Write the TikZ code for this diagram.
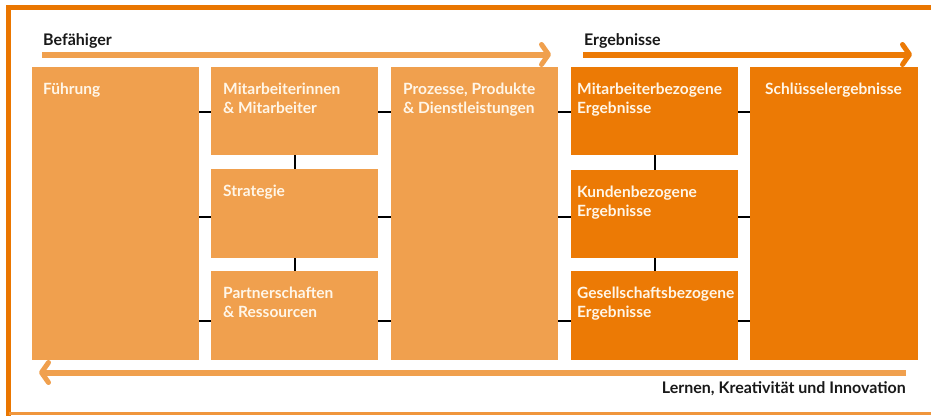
\documentclass[tikz,border=0pt]{standalone}
\usepackage{fontspec}
\setmainfont{Lato}
\usetikzlibrary{arrows.meta}
\definecolor{lo}{RGB}{240,160,78}
\definecolor{do}{RGB}{236,122,5}
\definecolor{fr}{RGB}{234,118,0}
\definecolor{frb}{RGB}{240,150,60}
\definecolor{txt}{RGB}{255,246,232}
\definecolor{ink}{RGB}{25,25,25}
\begin{document}
\begin{tikzpicture}[x=1pt,y=-1pt,
  lbox/.style={fill=lo, draw=none, inner sep=0pt, anchor=north west, minimum width=167pt},
  dbox/.style={fill=do, draw=none, inner sep=0pt, anchor=north west, minimum width=167pt},
  btext/.style={anchor=north west, inner sep=0pt, text=txt, align=left,
    font=\bfseries\fontsize{15.5}{19}\selectfont},
  head/.style={anchor=base west, inner sep=0pt, text=ink, font=\bfseries\fontsize{16}{19}\selectfont},
  conn/.style={draw=black, line width=2pt},
  arr/.style={line width=6pt, -{Straight Barb[length=7pt,width=20pt,line width=5pt,round]}}]
\useasboundingbox (0,0) rectangle (931,416);
\fill[white] (0,0) rectangle (931,416);
% frame
\draw[fr, line width=5pt] (931,7.5) -- (8.5,7.5) -- (8.5,416);
\draw[frb, line width=3pt] (8.5,413.5) -- (931,413.5);
% boxes
\node[lbox, minimum height=293pt] (fu) at (32,67) {};
\node[lbox, minimum height=88pt] (mi) at (211,67) {};
\node[lbox, minimum height=89pt] (st) at (211,169) {};
\node[lbox, minimum height=89pt] (pa) at (211,271) {};
\node[lbox, minimum height=293pt] (pr) at (391,67) {};
\node[dbox, minimum height=88pt] (me) at (571,67) {};
\node[dbox, minimum height=88pt] (ke) at (571,170) {};
\node[dbox, minimum height=89pt] (ge) at (571,271) {};
\node[dbox, minimum height=293pt, minimum width=168pt] (sc) at (750,67) {};
% texts
\node[btext] (fut) at ([xshift=11pt,yshift=-16pt]fu.north west) {Führung};
\node[btext] (mit) at ([xshift=12pt,yshift=-16pt]mi.north west) {Mitarbeiterinnen\\\& Mitarbeiter};
\node[btext] (stt) at ([xshift=12pt,yshift=-16pt]st.north west) {Strategie};
\node[btext] (pat) at ([xshift=12pt,yshift=-16pt]pa.north west) {Partnerschaften\\\& Ressourcen};
\node[btext] (prt) at ([xshift=12pt,yshift=-16pt]pr.north west) {Prozesse, Produkte\\\& Dienstleistungen};
\node[btext] (met) at ([xshift=6pt,yshift=-16pt]me.north west) {Mitarbeiterbezogene\\Ergebnisse};
\node[btext] (ket) at ([xshift=6pt,yshift=-16pt]ke.north west) {Kundenbezogene\\Ergebnisse};
\node[btext] (get) at ([xshift=6pt,yshift=-16pt]ge.north west) {Gesellschaftsbezogene\\Ergebnisse};
\node[btext] (sct) at ([xshift=15pt,yshift=-16pt]sc.north west) {Schlüsselergebnisse};
% connectors
\draw[conn] ([yshift=-1pt]mi.west -| fu.east) -- ([yshift=-1pt]mi.west);
\draw[conn] ([yshift=-3pt]st.west -| fu.east) -- ([yshift=-3pt]st.west);
\draw[conn] ([yshift=-5pt]pa.west -| fu.east) -- ([yshift=-5pt]pa.west);
\draw[conn] ([yshift=-1pt]mi.east) -- ([yshift=-1pt]mi.east -| pr.west);
\draw[conn] ([yshift=-3pt]st.east) -- ([yshift=-3pt]st.east -| pr.west);
\draw[conn] ([yshift=-5pt]pa.east) -- ([yshift=-5pt]pa.east -| pr.west);
\draw[conn] ([yshift=-1pt]me.west -| pr.east) -- ([yshift=-1pt]me.west);
\draw[conn] ([yshift=-3pt]ke.west -| pr.east) -- ([yshift=-3pt]ke.west);
\draw[conn] ([yshift=-5pt]ge.west -| pr.east) -- ([yshift=-5pt]ge.west);
\draw[conn] ([yshift=-1pt]me.east) -- ([yshift=-1pt]me.east -| sc.west);
\draw[conn] ([yshift=-3pt]ke.east) -- ([yshift=-3pt]ke.east -| sc.west);
\draw[conn] ([yshift=-5pt]ge.east) -- ([yshift=-5pt]ge.east -| sc.west);
\draw[conn] (mi.south) -- (st.north);
\draw[conn] (st.south) -- (pa.north);
\draw[conn] (me.south) -- (ke.north);
\draw[conn] (ke.south) -- (ge.north);
% headings and arrows
\node[head] (bef) at (43,45.5) {Befähiger};
\node[head] (erg) at (584,45.5) {Ergebnisse};
\coordinate (a1s) at (42,54.5);
\coordinate (a1e) at (551,54.5);
\coordinate (a2s) at (583,54.5);
\coordinate (a2e) at (912,54.5);
\coordinate (a3s) at (906,372.5);
\coordinate (a3e) at (39,372.5);
\draw[arr, lo] (a1s) -- (a1e);
\draw[arr, do] (a2s) -- (a2e);
\draw[arr, lo] (a3s) -- (a3e);
\node[anchor=base east, inner sep=0pt, text=ink, font=\fontsize{16}{19}\selectfont\bfseries] (lki) at (906,393) {Lernen, Kreativität und Innovation};
\end{tikzpicture}
\end{document}
